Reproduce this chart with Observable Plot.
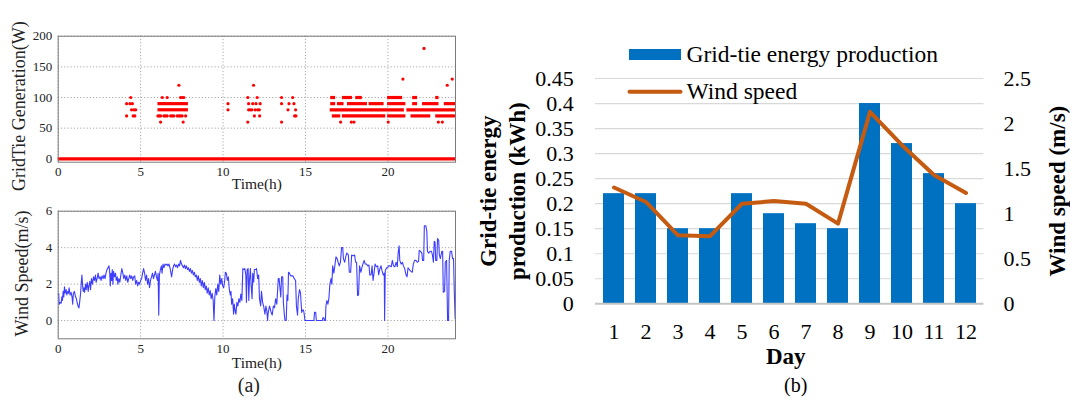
<!DOCTYPE html>
<html><head><meta charset="utf-8">
<script src="https://cdn.jsdelivr.net/npm/d3@7"></script>
<script src="https://cdn.jsdelivr.net/npm/@observablehq/plot@0.6"></script>
<style>
html,body{margin:0;padding:0;background:#fff;}
#wrap{position:relative;width:1070px;height:404px;overflow:hidden;background:#fff;}
#wrap > svg{position:absolute;}
#wrap svg text{font-family:'Liberation Serif','Times New Roman',serif !important;font-variant:normal !important;font-variant-numeric:normal !important;}
</style></head><body><div id="wrap"></div>
<script>
// ---------- Panel (a) data ----------
const hourTicks = [0, 5, 10, 15, 20];
const powerTicks = [0, 50, 100, 150, 200];
const windTicksA = [0, 2, 4, 6];
// dense runs of readings: [watts, startHour, endHour]
const powerRuns = [
  [0, 0, 24.1],
  [90, 6.05, 7.9], [80, 6.05, 7.9],
  [100, 16.53, 16.83], [100, 17.24, 17.85], [100, 18.05, 18.45], [100, 19.98, 20.89], [100, 21.5, 21.8], [100, 22.9, 23.1],
  [90, 16.53, 16.83], [90, 16.94, 17.34], [90, 17.55, 18.76], [90, 18.86, 19.77], [90, 19.98, 21.09], [90, 21.5, 21.8], [90, 22.1, 23.1], [90, 23.42, 24.1],
  [80, 16.5, 21.0], [80, 21.15, 24.1],
  [70, 16.63, 17.14], [70, 17.24, 19.87], [70, 19.98, 21.09], [70, 21.4, 22.6], [70, 22.9, 24.1]
];
// isolated readings: [hour, watts]
const powerPoints = [
  [4.15, 90], [4.15, 70], [4.35, 90], [4.4, 100], [4.45, 80], [4.5, 90], [4.55, 70], [4.6, 80], [4.65, 70], [4.7, 80],
  [6.31, 100], [6.61, 100], [7.42, 100], [7.52, 100], [7.62, 100],
  [6.05, 70], [6.13, 70], [6.21, 70], [6.41, 70], [6.51, 70], [6.61, 70], [6.82, 70], [6.92, 70], [7.02, 70], [7.22, 70], [7.32, 70], [7.42, 70], [7.52, 70], [7.73, 70],
  [6.21, 60], [7.58, 60], [7.32, 120],
  [10.3, 90], [10.3, 80],
  [11.5, 60], [11.5, 100], [11.55, 90], [11.55, 80], [11.65, 80], [11.75, 80], [11.8, 90], [11.85, 120], [11.9, 70], [11.95, 80], [12.0, 90], [12.07, 100], [12.1, 80], [12.2, 80], [12.22, 70], [12.25, 90],
  [13.55, 60], [13.55, 100], [13.55, 90], [13.94, 80], [14.0, 90], [14.22, 100], [14.3, 90], [14.4, 80], [14.34, 70], [14.42, 70],
  [17.13, 60], [17.78, 60], [17.94, 60], [20.02, 60], [23.06, 60], [23.3, 60],
  [23.6, 120], [20.91, 130], [23.9, 130], [22.19, 180]
];
// wind speed: [hour, m/s]
const windSpeedA = [
  [0.00,1.45],[0.03,1.5],[0.06,0.9],[0.12,1.0],[0.18,0.95],[0.22,1.3],[0.26,1.1],[0.30,1.6],[0.34,1.3],[0.38,1.85],[0.42,1.5],[0.48,1.7],[0.52,1.4],[0.58,1.6],[0.62,1.5],[0.66,1.8],[0.72,1.4],[0.78,1.55],[0.84,1.3],[0.88,0.9],[0.92,1.5],[0.98,1.6],[1.04,1.35],[1.10,1.2],[1.16,0.95],[1.22,0.75],[1.26,0.7],[1.30,1.0],[1.36,1.5],[1.40,2.1],[1.44,2.5],[1.48,1.9],[1.52,1.6],[1.56,1.8],[1.60,1.55],[1.66,2.0],[1.70,1.7],[1.76,2.1],[1.82,1.6],[1.86,1.9],[1.92,2.15],[1.96,1.7],
  [2.02,2.3],[2.08,2.0],[2.14,2.4],[2.20,2.2],[2.26,2.5],[2.30,2.1],[2.36,2.3],[2.42,2.6],[2.48,2.3],[2.54,2.4],[2.60,2.2],[2.66,2.45],[2.72,2.3],[2.78,2.5],[2.84,2.3],[2.90,2.6],[2.96,2.8],[3.02,2.9],[3.08,3.0],[3.12,2.7],[3.16,1.9],[3.20,2.6],[3.24,2.2],[3.28,2.8],[3.32,2.0],[3.36,2.7],[3.42,2.4],[3.48,2.6],[3.52,2.2],[3.58,2.4],[3.62,2.0],[3.68,2.3],[3.74,2.1],[3.80,2.5],[3.86,2.85],[3.92,2.6],[3.98,2.3],
  [4.04,2.5],[4.10,2.2],[4.16,2.45],[4.22,2.1],[4.28,2.3],[4.34,2.5],[4.40,2.3],[4.46,2.45],[4.52,2.2],[4.58,2.4],[4.64,2.45],[4.70,2.0],[4.76,2.2],[4.82,1.9],[4.88,2.1],[4.94,2.0],[5.00,2.2],[5.06,2.3],[5.12,2.6],[5.18,2.85],[5.24,2.6],[5.30,2.2],[5.36,2.5],[5.42,2.0],[5.48,2.3],[5.54,1.8],[5.60,2.2],[5.66,2.4],[5.72,2.6],[5.78,2.3],[5.84,2.5],[5.90,2.7],[5.96,2.4],
  [6.02,2.2],[6.06,2.6],[6.10,0.3],[6.14,2.5],[6.20,2.8],[6.26,3.0],[6.30,2.6],[6.36,3.1],[6.42,2.9],[6.48,3.1],[6.54,3.05],[6.60,3.1],[6.66,3.0],[6.72,3.1],[6.78,2.9],[6.84,2.6],[6.88,2.4],[6.94,2.8],[7.00,3.0],[7.06,3.1],[7.12,2.95],[7.18,3.05],[7.24,2.9],[7.30,3.1],[7.36,3.0],[7.42,3.3],[7.48,3.1],[7.54,3.0],[7.60,2.9],[7.66,3.05],[7.72,2.85],[7.78,3.0],[7.84,2.8],[7.90,2.9],[7.96,2.7],
  [8.02,2.85],[8.08,2.6],[8.14,2.75],[8.20,2.5],[8.26,2.65],[8.32,2.4],[8.38,2.5],[8.44,2.2],[8.50,2.45],[8.56,2.1],[8.62,2.3],[8.68,1.9],[8.74,2.2],[8.80,1.8],[8.86,2.1],[8.92,1.7],[8.98,1.9],[9.04,1.5],[9.10,1.8],[9.16,1.4],[9.22,1.65],[9.28,1.2],[9.34,1.5],[9.40,1.1],[9.45,0.0],[9.50,1.3],[9.56,1.75],[9.62,1.4],[9.68,2.0],[9.74,1.6],[9.80,2.5],[9.86,2.0],[9.92,2.3],[9.98,1.9],
  [10.04,1.8],[10.10,2.2],[10.14,2.65],[10.20,2.6],[10.26,2.2],[10.32,2.4],[10.38,1.7],[10.44,1.4],[10.48,1.6],[10.52,0.9],[10.58,1.2],[10.64,0.35],[10.68,0.9],[10.74,0.5],[10.78,0.35],[10.84,1.0],[10.90,0.8],[10.96,1.2],[11.02,1.0],[11.08,1.45],[11.14,1.1],[11.20,2.85],[11.26,2.8],[11.32,2.85],[11.38,2.5],[11.42,1.0],[11.46,2.8],[11.52,2.85],[11.56,1.1],[11.60,2.2],[11.66,2.85],[11.70,2.0],[11.76,1.2],[11.80,2.6],[11.86,2.1],[11.90,2.8],[11.97,2.8],
  [12.03,2.85],[12.10,2.3],[12.16,2.5],[12.21,1.2],[12.28,0.8],[12.33,1.6],[12.40,1.0],[12.46,0.8],[12.54,0.35],[12.60,0.8],[12.66,0.5],[12.70,0.0],[12.74,0.45],[12.82,0.8],[12.90,0.5],[12.98,0.3],[13.05,0.8],[13.12,0.7],[13.19,1.2],[13.26,0.9],[13.35,2.3],[13.40,2.3],[13.45,1.8],[13.50,1.3],[13.55,2.4],[13.62,2.4],[13.66,1.0],[13.72,0.3],[13.76,0.0],[13.83,0.0],[13.88,1.4],[13.93,1.1],[13.97,2.65],[14.03,2.6],[14.10,2.45],[14.18,2.45],[14.24,2.45],[14.32,2.3],[14.40,2.2],[14.45,0.8],[14.52,0.3],[14.56,1.2],[14.64,1.7],[14.70,1.5],[14.77,0.45],[14.85,0.6],[14.90,0.5],[14.97,0.0],
  [15.51,0.0],[15.55,0.45],[15.62,0.45],[15.66,0.0],[16.02,0.0],[16.05,0.15],[16.12,0.15],[16.15,0.0],[16.21,0.0],[16.24,0.8],[16.30,1.1],[16.36,0.9],[16.42,1.2],[16.48,2.0],[16.55,2.3],[16.60,2.0],[16.65,3.0],[16.72,2.6],[16.78,3.0],[16.85,3.5],[16.92,3.4],[16.98,3.2],[17.05,3.0],[17.12,3.2],[17.19,4.0],[17.26,4.0],[17.30,3.4],[17.38,3.2],[17.44,3.5],[17.50,3.7],[17.60,3.6],[17.66,2.65],[17.74,2.65],[17.80,3.6],[17.90,3.55],[17.98,3.6],
  [18.04,3.2],[18.10,3.2],[18.16,1.37],[18.22,1.4],[18.28,3.0],[18.36,2.65],[18.42,2.9],[18.48,3.1],[18.56,3.3],[18.62,3.1],[18.70,3.1],[18.78,3.0],[18.85,3.05],[18.90,2.5],[18.98,2.5],[19.04,3.0],[19.10,2.2],[19.16,2.6],[19.22,3.1],[19.30,2.95],[19.38,3.0],[19.44,2.5],[19.50,2.8],[19.58,3.0],[19.64,2.75],[19.72,2.5],[19.78,2.6],[19.80,0.0],[19.84,2.75],[19.92,2.9],[19.98,2.9],
  [20.04,3.0],[20.12,3.0],[20.20,2.95],[20.27,3.3],[20.34,3.0],[20.42,2.95],[20.50,3.2],[20.57,2.95],[20.62,3.7],[20.68,4.1],[20.72,3.3],[20.80,3.1],[20.88,3.2],[20.94,3.0],[21.02,2.85],[21.10,2.5],[21.16,2.4],[21.22,2.9],[21.30,2.8],[21.40,2.7],[21.48,2.65],[21.54,3.1],[21.62,3.3],[21.70,3.3],[21.78,3.2],[21.86,3.25],[21.90,3.85],[21.98,3.8],[22.06,3.7],[22.10,3.3],[22.17,3.3],
  [22.21,5.2],[22.30,5.2],[22.36,4.9],[22.40,3.8],[22.48,3.7],[22.56,3.8],[22.64,3.8],[22.70,3.6],[22.76,3.2],[22.81,4.35],[22.86,4.3],[22.90,3.3],[22.97,3.3],[23.01,4.5],[23.08,4.4],[23.12,3.6],[23.18,3.4],[23.27,3.8],[23.32,3.8],[23.36,1.55],[23.44,1.6],[23.48,3.2],[23.56,3.3],[23.62,0.0],[23.68,0.0],[23.72,3.3],[23.78,3.8],[23.86,3.8],[23.92,3.4],[23.98,3.4],[24.03,1.5],[24.08,0.1]
];

// ---------- Panel (b) data ----------
const days = [1, 2, 3, 4, 5, 6, 7, 8, 9, 10, 11, 12];
const energy = [0.22, 0.22, 0.15, 0.15, 0.22, 0.18, 0.16, 0.15, 0.40, 0.32, 0.26, 0.20];
const windSpeedB = [1.29, 1.13, 0.76, 0.75, 1.11, 1.14, 1.11, 0.89, 2.13, 1.76, 1.43, 1.23];
const energyTicks = [0, 0.05, 0.1, 0.15, 0.2, 0.25, 0.3, 0.35, 0.4, 0.45];
const energyTickLabels = ["0", "0.05", "0.1", "0.15", "0.2", "0.25", "0.3", "0.35", "0.4", "0.45"];
const windTicksB = [0, 0.5, 1, 1.5, 2, 2.5];
const windTickLabelsB = ["0", "0.5", "1", "1.5", "2", "2.5"];

// ---------- styles ----------
const serif = "Liberation Serif";
const red = "#ff0000";
const blueLine = "#3d3dff";
const barBlue = "#0070c0";
const orange = "#c55a11";
const wrap = document.getElementById("wrap");
function place(svg, left, top) {
  svg.style.position = "absolute";
  svg.style.left = left + "px";
  svg.style.top = top + "px";
  svg.style.overflow = "visible";
  svg.style.fontFamily = "Liberation Serif";
  wrap.appendChild(svg);
}
const gridStyle = {stroke: "#a8a8a8", strokeOpacity: 1, strokeDasharray: "1.2,2"};
const axA = {tickSize: 0, fontSize: 13, label: null, fontFamily: serif, fontVariant: "normal", fill: "#222"};
const axB = {tickSize: 0, fontSize: 22, label: null, fontFamily: serif, fontVariant: "normal", fill: "#000"};

// ---------- Panel (a) top ----------
const pTop = Plot.plot({
  width: 470, height: 200,
  marginLeft: 57.7, marginRight: 15, marginTop: 35.7, marginBottom: 38.3,
  x: {domain: [0, 24.1]},
  y: {domain: [-5.5, 200]},
  style: {fontFamily: serif, background: "transparent", color: "#222"},
  marks: [
    Plot.gridX(hourTicks, gridStyle),
    Plot.gridY(powerTicks, gridStyle),
    Plot.ruleY(powerRuns, {y: d => d[0], x1: d => d[1], x2: d => d[2], stroke: red, strokeWidth: 3.2, strokeDasharray: d => d[0] === 0 ? null : "2.6,0.8"}),
    Plot.dot(powerPoints, {x: d => d[0], y: d => d[1], r: 1.6, fill: red, stroke: null}),
    Plot.frame({stroke: "#7a7a7a"}),
    Plot.axisX(hourTicks, {...axA, tickPadding: 5}),
    Plot.axisY(powerTicks, {...axA, tickPadding: 6}),
    Plot.text(["Time(h)"], {frameAnchor: "bottom", dy: 27, fontSize: 15.5, fill: "#222", fontFamily: serif}),
    Plot.text(["GridTie Generation(W)"], {frameAnchor: "left", textAnchor: "middle", rotate: -90, dx: -38.7, dy: 7, fontSize: 18, fill: "#222", fontFamily: serif})
  ]
});
place(pTop, 0, 0);

// ---------- Panel (a) bottom ----------
const pBot = Plot.plot({
  width: 470, height: 204,
  marginLeft: 57.7, marginRight: 15, marginTop: 10.7, marginBottom: 65.7,
  x: {domain: [0, 24.1]},
  y: {domain: [-1, 6]},
  style: {fontFamily: serif, background: "transparent", color: "#222"},
  marks: [
    Plot.gridX(hourTicks, gridStyle),
    Plot.gridY(windTicksA, gridStyle),
    Plot.line(windSpeedA, {x: d => d[0], y: d => d[1], stroke: blueLine, strokeWidth: 1.1}),
    Plot.frame({stroke: "#7a7a7a"}),
    Plot.axisX(hourTicks, {...axA, tickPadding: 5}),
    Plot.axisY(windTicksA, {...axA, tickPadding: 6}),
    Plot.text(["Time(h)"], {frameAnchor: "bottom", dy: 29.4, fontSize: 15.5, fill: "#222", fontFamily: serif}),
    Plot.text(["(a)"], {frameAnchor: "bottom", dy: 53.4, dx: -8, fontSize: 20, fill: "#222", fontFamily: serif}),
    Plot.text(["Wind Speed(m/s)"], {frameAnchor: "left", textAnchor: "middle", rotate: -90, dx: -35.7, dy: -1.5, fontSize: 18, fill: "#222", fontFamily: serif})
  ]
});
place(pBot, 0, 200);

// ---------- Panel (b) ----------
const ratio = 0.45 / 2.5;
const rows = days.map((d, i) => ({day: d, energy: energy[i], wind: windSpeedB[i]}));
const rightTickPos = windTicksB.map(v => v * ratio);
const pB = Plot.plot({
  width: 600, height: 404,
  marginLeft: 125, marginRight: 86.6, marginTop: 78, marginBottom: 100.7,
  x: {type: "band", domain: days, paddingInner: 0.335, paddingOuter: 0.1675},
  y: {domain: [0, 0.45]},
  style: {fontFamily: serif, background: "transparent", color: "#000"},
  marks: [
    Plot.gridY(energyTicks.filter(t => t > 0), {stroke: "#d9d9d9", strokeOpacity: 1, strokeWidth: 1.2}),
    Plot.barY(rows, {x: "day", y: "energy", fill: barBlue}),
    Plot.ruleY([0], {stroke: "#c4c4c4", strokeWidth: 2}),
    Plot.line(rows, {x: "day", y: d => d.wind * ratio, stroke: orange, strokeWidth: 4, strokeLinejoin: "round", strokeLinecap: "round"}),
    Plot.axisX(days, {...axB, tickPadding: 20}),
    Plot.axisY(energyTicks, {...axB, tickPadding: 21.7, tickFormat: d => energyTickLabels[energyTicks.indexOf(d)]}),
    Plot.axisY(rightTickPos, {...axB, anchor: "right", tickPadding: 19.6, tickFormat: d => windTickLabelsB[rightTickPos.indexOf(d)]}),
    Plot.text(["Day"], {frameAnchor: "bottom", dy: 60, dx: -4, fontSize: 23, fontWeight: "bold", fill: "#000", fontFamily: serif}),
    Plot.text(["(b)"], {frameAnchor: "bottom", dy: 88.4, dx: 6, fontSize: 20, fill: "#000", fontFamily: serif}),
    Plot.text(["Grid-tie energy"], {frameAnchor: "left", textAnchor: "middle", rotate: -90, dx: -107, fontSize: 23, fontWeight: "bold", fill: "#000", fontFamily: serif}),
    Plot.text(["production (kWh)"], {frameAnchor: "left", textAnchor: "middle", rotate: -90, dx: -78, fontSize: 23, fontWeight: "bold", fill: "#000", fontFamily: serif}),
    Plot.text(["Wind speed (m/s)"], {frameAnchor: "right", textAnchor: "middle", rotate: -90, dx: 73.3, fontSize: 23, fontWeight: "bold", fill: "#000", fontFamily: serif})
  ]
});
place(pB, 470, 0);

// ---------- Legend for panel (b) ----------
const legend = d3.create("svg").attr("width", 1070).attr("height", 404)
  .style("position", "absolute").style("left", "0px").style("top", "0px").style("pointer-events", "none");
legend.append("rect").attr("x", 629).attr("y", 49).attr("width", 52).attr("height", 11).attr("fill", barBlue);
legend.append("text").attr("x", 686.5).attr("y", 61.5).attr("font-family", serif).attr("font-size", 23.5).text("Grid-tie energy production");
legend.append("line").attr("x1", 629.5).attr("x2", 680.5).attr("y1", 91.7).attr("y2", 91.7).attr("stroke", orange).attr("stroke-width", 4).attr("stroke-linecap", "round");
legend.append("text").attr("x", 686.5).attr("y", 98.5).attr("font-family", serif).attr("font-size", 23.5).text("Wind speed");
wrap.appendChild(legend.node());
</script></body></html>
